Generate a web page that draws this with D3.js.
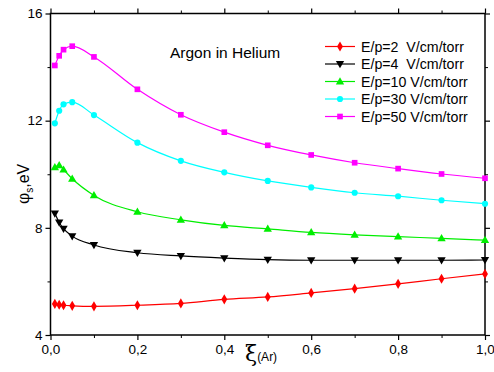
<!DOCTYPE html>
<html>
<head>
<meta charset="utf-8">
<script src="https://cdn.jsdelivr.net/npm/d3@7"></script>
<style>
  body { margin: 0; background: #fff; }
  text { font-family: "Liberation Sans", Arial, sans-serif; white-space: pre; }
</style>
</head>
<body>
<div id="chart"></div>
<script>
var xs = [0.01, 0.02, 0.03, 0.05, 0.1, 0.2, 0.3, 0.4, 0.5, 0.6, 0.7, 0.8, 0.9, 1.0];

var ep2  = [5.16, 5.13, 5.11, 5.09, 5.07, 5.11, 5.18, 5.33, 5.42, 5.57, 5.73, 5.91, 6.10, 6.28];
var ep4  = [8.54, 8.20, 7.97, 7.69, 7.36, 7.07, 6.95, 6.87, 6.81, 6.79, 6.79, 6.79, 6.79, 6.80];
var ep10 = [10.26, 10.33, 10.17, 9.83, 9.21, 8.60, 8.30, 8.09, 7.96, 7.83, 7.74, 7.67, 7.61, 7.54];
var ep30 = [11.90, 12.37, 12.61, 12.69, 12.21, 11.18, 10.50, 10.07, 9.75, 9.51, 9.31, 9.18, 9.03, 8.90];
var ep50 = [14.06, 14.42, 14.65, 14.78, 14.38, 13.17, 12.22, 11.57, 11.08, 10.72, 10.43, 10.21, 10.01, 9.85];

var seriesNames = ["E/p=2  V/cm/torr", "E/p=4  V/cm/torr", "E/p=10 V/cm/torr", "E/p=30 V/cm/torr", "E/p=50 V/cm/torr"];
var seriesColors = ["#ff0000", "#000000", "#00ee00", "#00ffff", "#ff00ff"];
var seriesSymbols = ["diamond", "down", "up", "circle", "square"];
var seriesValues = [ep2, ep4, ep10, ep30, ep50];

var xTicks = [0, 0.2, 0.4, 0.6, 0.8, 1.0];
var xMinor = [0.1, 0.3, 0.5, 0.7, 0.9];
var yTicks = [4, 8, 12, 16];
var yMinor = [6, 10, 14];

var width = 494, height = 372;
var margin = {top: 13.5, right: 9, bottom: 37, left: 50.5};

var svg = d3.select("#chart").append("svg")
  .attr("width", width)
  .attr("height", height);

var x = d3.scaleLinear().domain([0, 1]).range([margin.left, width - margin.right]);
var y = d3.scaleLinear().domain([4, 16]).range([height - margin.bottom, margin.top]);

var fmt = function(d) { return d3.format(".1f")(d).replace(".", ","); };

// axes, all four sides with outward ticks
function axisPair(axis, major, minor, transform, labels) {
  svg.append("g").attr("transform", transform)
    .call(axis.tickValues(minor).tickSize(3).tickFormat(""))
    .call(function(g) { g.select(".domain").remove(); });
  var g = svg.append("g").attr("transform", transform)
    .call(axis.tickValues(major).tickSize(5).tickFormat(labels || ""));
  g.select(".domain").remove();
  g.selectAll("line").attr("stroke-width", 1.2);
  g.selectAll("text").attr("font-size", 13.5).attr("fill", "#000")
    .attr("font-family", "Liberation Sans, Arial, sans-serif");
  return g;
}

var bx = axisPair(d3.axisBottom(x), xTicks, xMinor, "translate(0," + y(4) + ")", fmt);
bx.selectAll("text").attr("dy", "0.85em");
axisPair(d3.axisTop(x), xTicks, xMinor, "translate(0," + y(16) + ")");
var ly = axisPair(d3.axisLeft(y), yTicks, yMinor, "translate(" + x(0) + ",0)", d3.format("d"));
ly.selectAll("text").attr("x", -8);
axisPair(d3.axisRight(y), yTicks, yMinor, "translate(" + x(1) + ",0)");

svg.append("rect")
  .attr("x", x(0)).attr("y", y(16))
  .attr("width", x(1) - x(0)).attr("height", y(4) - y(16))
  .attr("fill", "none").attr("stroke", "#000").attr("stroke-width", 1.5);

// symbols
var symMap = {
  diamond: d3.symbolDiamond, down: d3.symbolTriangle, up: d3.symbolTriangle,
  circle: d3.symbolCircle, square: d3.symbolSquare
};
var symSize = {diamond: 30, down: 30, up: 30, circle: 30, square: 32};
function symbolPath(name) {
  return d3.symbol().type(symMap[name]).size(symSize[name])();
}
function symbolTransform(name, px, py) {
  var t = "translate(" + px + "," + py + ")";
  if (name === "down") t += " rotate(180)";
  if (name === "up" || name === "down") t += " translate(0,0.5)";
  return t;
}

var line = d3.line()
  .x(function(d) { return x(d[0]); })
  .y(function(d) { return y(d[1]); })
  .curve(d3.curveMonotoneX);

seriesValues.forEach(function(vals, i) {
  var pts = xs.map(function(v, j) { return [v, vals[j]]; });
  svg.append("path")
    .datum(pts)
    .attr("d", line)
    .attr("fill", "none")
    .attr("stroke", seriesColors[i])
    .attr("stroke-width", 1.2);
  svg.selectAll(".pt" + i).data(pts).enter().append("path")
    .attr("class", "pt" + i)
    .attr("d", symbolPath(seriesSymbols[i]))
    .attr("transform", function(d) { return symbolTransform(seriesSymbols[i], x(d[0]), y(d[1])); })
    .attr("fill", seriesColors[i]);
});

// legend
var legend = svg.append("g").attr("transform", "translate(325,46.5)");
seriesNames.forEach(function(name, i) {
  var row = legend.append("g").attr("transform", "translate(0," + (i * 17.5) + ")");
  row.append("line").attr("x1", 0).attr("x2", 30).attr("y1", 0).attr("y2", 0)
    .attr("stroke", seriesColors[i]).attr("stroke-width", 1.2);
  row.append("path").attr("d", symbolPath(seriesSymbols[i]))
    .attr("transform", symbolTransform(seriesSymbols[i], 15, 0))
    .attr("fill", seriesColors[i]);
  row.append("text").attr("x", 36).attr("y", 0).attr("dy", "0.36em")
    .attr("font-size", 14.2).text(name);
});

svg.append("text")
  .attr("x", 170).attr("y", 58)
  .attr("font-size", 15.5)
  .text("Argon in Helium");

// axis titles
var xl = svg.append("text").attr("x", 245).attr("y", 361);
xl.append("tspan").attr("font-size", 22).attr("font-family", "DejaVu Serif, serif").text("ξ");
xl.append("tspan").attr("font-size", 12).attr("dy", 0).text("(Ar)");

var yl = svg.append("text")
  .attr("transform", "translate(29,204) rotate(-90)");
yl.append("tspan").attr("font-size", 16).attr("font-family", "DejaVu Serif, serif").text("φ");
yl.append("tspan").attr("font-size", 10).attr("dy", 4).text("s");
yl.append("tspan").attr("font-size", 16).attr("dy", -4).text(",eV");
</script>
</body>
</html>
